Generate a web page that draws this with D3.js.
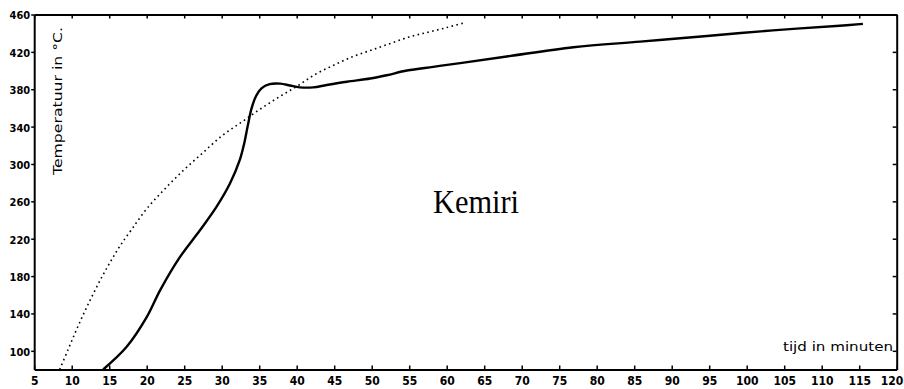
<!DOCTYPE html>
<head>
  <meta charset="utf-8">
  <script src="https://cdn.jsdelivr.net/npm/d3@7"></script>
  <style>
    body { margin: 0; background: #fff; }
    .tick text { font-family: "DejaVu Sans Condensed", "DejaVu Sans", sans-serif; font-weight: bold; fill: #000; }
  </style>
</head>
<body>
  <script>
    // minutes / temperature (deg C)
    var solidMin  = [14.2, 17.3, 20, 21.8, 24.4, 27.1, 29.3, 31.1, 32.4, 33, 33.5, 34, 34.6, 35.3, 36.4, 37.8, 39.1, 40.4, 42.2, 44, 46.7, 49.8, 52, 54.7, 58.2, 61.8, 68, 76.9, 85.8, 94.7, 103.5, 112.4, 115.5];
    var solidTemp = [80, 104, 136, 165, 200, 229, 254, 279, 304, 322, 342, 360, 373, 381, 385.5, 386, 384, 382, 382, 384.5, 388, 391.5, 395, 400, 404, 408, 415, 425, 431, 437, 443, 448, 450];

    var dotMin  = [8.4, 9.5, 10.5, 11.5, 12.5, 13.5, 14.5, 15.5, 16.5, 18, 20, 22.5, 25, 27.5, 30, 32.5, 35, 37.5, 40, 42.5, 45, 47.5, 50, 52.5, 55, 57.5, 60, 62.3];
    var dotTemp = [80, 101, 120, 138, 155, 171, 186, 200, 213, 230, 252, 274, 294, 312, 330, 344, 358, 371, 383, 396, 406, 415, 422, 429, 436, 441, 446, 451];

    var xTicks = d3.range(5, 121, 5);
    var yTicks = [100, 140, 180, 220, 260, 300, 340, 380, 420, 460];

    var width = 904, height = 389;

    var svg = d3.select("body").append("svg")
      .attr("width", width)
      .attr("height", height);

    var x = d3.scaleLinear().domain([5, 120]).range([34.2, 896.7]);
    var y = d3.scaleLinear().domain([80, 460]).range([369.5, 14.5]);

    // bottom axis
    var gx = svg.append("g")
      .attr("transform", "translate(0," + y(80) + ")")
      .call(d3.axisBottom(x).tickValues(xTicks).tickSize(-4).tickSizeOuter(0).tickPadding(7));
    gx.selectAll("text").style("font-size", "12px");
    gx.selectAll(".tick").filter(function(d) { return d === 120; })
      .select("text").attr("text-anchor", "end").attr("dx", 6);

    // top axis
    svg.append("g")
      .attr("transform", "translate(0," + y(460) + ")")
      .call(d3.axisTop(x).tickValues(xTicks).tickSize(-4).tickSizeOuter(0).tickFormat(""));

    // left axis
    var gy = svg.append("g")
      .attr("transform", "translate(" + x(5) + ",0)")
      .call(d3.axisLeft(y).tickValues(yTicks).tickSize(3).tickSizeOuter(0).tickPadding(1));
    gy.selectAll("text").style("font-size", "11px").attr("dy", "0.4em");

    // right axis
    svg.append("g")
      .attr("transform", "translate(" + x(120) + ",0)")
      .call(d3.axisRight(y).tickValues(yTicks).tickSize(-4).tickSizeOuter(0).tickFormat(""));

    svg.selectAll(".domain").attr("stroke", "#000").attr("stroke-width", 2);
    svg.selectAll(".tick line").attr("stroke", "#000").attr("stroke-width", 1.5);

    var line = d3.line()
      .x(function(d) { return x(d[0]); })
      .y(function(d) { return y(d[1]); })
      .curve(d3.curveCatmullRom);

    var dotData = dotMin.map(function(m, i) { return [m, dotTemp[i]]; });
    var solidData = solidMin.map(function(m, i) { return [m, solidTemp[i]]; });

    svg.append("path")
      .datum(dotData)
      .attr("d", line)
      .attr("fill", "none")
      .attr("stroke", "#000")
      .attr("stroke-width", 1.6)
      .attr("stroke-dasharray", "1.6,3.4");

    svg.append("path")
      .datum(solidData)
      .attr("d", line)
      .attr("fill", "none")
      .attr("stroke", "#000")
      .attr("stroke-width", 2.4);

    // labels
    svg.append("text")
      .attr("transform", "translate(62,175) rotate(-90)")
      .attr("font-family", "DejaVu Sans, sans-serif")
      .attr("font-size", 13)
      .attr("textLength", 148)
      .attr("lengthAdjust", "spacingAndGlyphs")
      .text("Temperatuur in °C.");

    svg.append("text")
      .attr("x", 893)
      .attr("y", 351)
      .attr("text-anchor", "end")
      .attr("font-family", "DejaVu Sans, sans-serif")
      .attr("font-size", 13)
      .attr("textLength", 110)
      .attr("lengthAdjust", "spacingAndGlyphs")
      .text("tijd in minuten");

    svg.append("text")
      .attr("x", 433)
      .attr("y", 213)
      .attr("font-family", "Liberation Serif, serif")
      .attr("font-size", 34)
      .attr("textLength", 86)
      .attr("lengthAdjust", "spacingAndGlyphs")
      .text("Kemiri");
  </script>
</body>
